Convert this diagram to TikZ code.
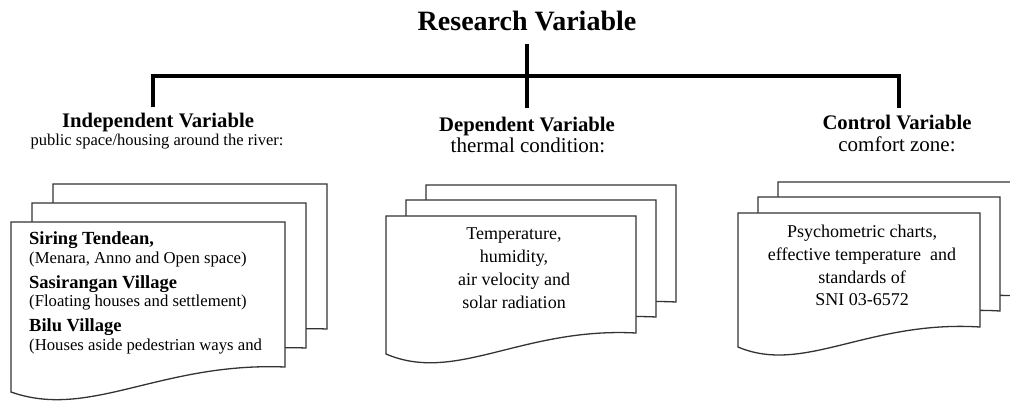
\documentclass[tikz,border=0pt]{standalone}
\usepackage{fontspec}
\setmainfont{Liberation Serif}
\begin{document}
\begin{tikzpicture}[x=1pt,y=-1pt,
  conn/.style={line width=3.6pt,black,line join=miter},
  docline/.style={line width=1.3pt,draw=black!80,fill=white,line join=miter},
  ttl/.style={font=\fontsize{28}{32}\selectfont\bfseries,inner sep=0pt,anchor=base},
  hdg/.style={font=\fontsize{20.7}{24}\selectfont\bfseries,inner sep=0pt,anchor=base},
  subhdg/.style={inner sep=0pt,anchor=base},
  boxtxt/.style={inner sep=0pt,anchor=north,align=center,font=\fontsize{18}{22.7}\selectfont},
  lbold/.style={inner sep=0pt,anchor=base west,font=\fontsize{18.5}{22}\selectfont\bfseries},
  lreg/.style={inner sep=0pt,anchor=base west,font=\fontsize{16.7}{20}\selectfont}]
\useasboundingbox (0,0) rectangle (1010,403);
\clip (0,0) rectangle (1010,403);

% title and headings
\node[ttl] (T) at (527,31) {Research Variable};
\node[hdg] (I) at (158,128) {Independent Variable};
\node[subhdg,font=\fontsize{16.5}{20}\selectfont] (Is) at (157,146) {public space/housing around the river:};
\node[hdg] (D) at (527,132) {Dependent Variable};
\node[subhdg,font=\fontsize{21}{24}\selectfont] (Ds) at (528,153) {thermal condition:};
\node[hdg] (C) at (897,130) {Control Variable};
\node[subhdg,font=\fontsize{21}{24}\selectfont] (Cs) at (897,152) {comfort zone:};

% connectors
\coordinate (J) at (527,76);
\draw[conn] ([yshift=-12pt]T.south) -- ([yshift=9pt]D.north);
\draw[conn] ([xshift=-5pt,yshift=6pt]I.north) |- (J) -| ([xshift=2pt,yshift=7pt]C.north);

% document shapes
\def\docA{(11,222) -- (285,222) -- (285,367) .. controls (160,362) and (90,420) .. (11,392) -- cycle}
\def\docB{(386,216) -- (636,216) -- (636,333) .. controls (522,327) and (456,384) .. (386,354) -- cycle}
\def\docC{(738,213) -- (980,213) -- (980,327) .. controls (868,320) and (804,375) .. (738,347) -- cycle}

\draw[docline,shift={(42,-38)}] \docA;
\draw[docline,shift={(21,-19)}] \docA;
\draw[docline] \docA;

\draw[docline,shift={(40,-31)}] \docB;
\draw[docline,shift={(20,-16)}] \docB;
\draw[docline] \docB;

\draw[docline,shift={(40,-31)}] \docC;
\draw[docline,shift={(20,-16)}] \docC;
\draw[docline] \docC;

% texts in documents
\node[lbold] (l1) at (29,245) {Siring Tendean,};
\node[lreg]  (l2) at (29,264) {(Menara, Anno and Open space)};
\node[lbold] (l3) at (29,289) {Sasirangan Village};
\node[lreg]  (l4) at (29,307) {(Floating houses and settlement)};
\node[lbold] (l5) at (29,332) {Bilu Village};
\node[lreg]  (l6) at (29,351) {(Houses aside pedestrian ways and};

\node[boxtxt] (dt) at (514,228) {Temperature,\\humidity,\\air velocity and\\solar radiation};
\node[boxtxt] (ct) at (862,225) {Psychometric charts,\\effective temperature\ \ and\\standards of\\SNI 03-6572};
\end{tikzpicture}
\end{document}
